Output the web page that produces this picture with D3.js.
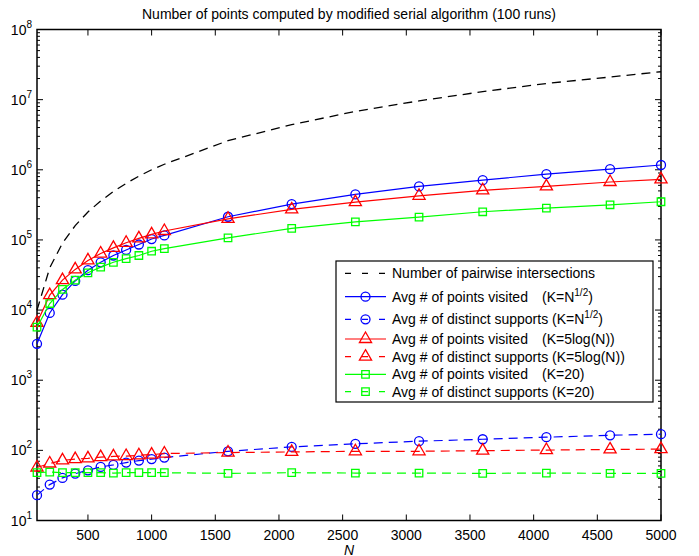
<!DOCTYPE html>
<html>
<head>
<meta charset="utf-8">
<script src="https://cdn.jsdelivr.net/npm/d3@7"></script>
<style>
	body { margin: 0; background: #fff; }
	text { font-family: "Liberation Sans", Arial, sans-serif; }
</style>
</head>
<body>
<div id="chart"></div>
<script>
(function() {
	// values
	var nValues = [100, 200, 300, 400, 500, 600, 700, 800, 900, 1000, 1100, 1600, 2100, 2600, 3100, 3600, 4100, 4600, 5000];
	var pairwise = [1.0e4, 4.0e4, 9.0e4, 1.6e5, 2.5e5, 3.6e5, 4.9e5, 6.4e5, 8.1e5, 1.0e6, 1.2e6, 2.6e6, 4.4e6, 6.8e6, 9.6e6, 1.3e7, 1.7e7, 2.1e7, 2.5e7];
	var sqrtVisited = [3.3e3, 9.1e3, 1.66e4, 2.6e4, 3.7e4, 4.8e4, 6.0e4, 7.2e4, 8.6e4, 1.03e5, 1.16e5, 2.14e5, 3.24e5, 4.46e5, 5.8e5, 7.1e5, 8.7e5, 1.02e6, 1.17e6];
	var sqrtSupports = [23, 32.5, 40.5, 46.5, 52, 58, 62, 67, 71.5, 75, 79, 97, 112, 124, 135, 144, 154, 164, 170];
	var logVisited = [6.6e3, 1.63e4, 2.67e4, 3.8e4, 5.1e4, 6.4e4, 7.7e4, 9.1e4, 1.05e5, 1.2e5, 1.34e5, 2.0e5, 2.72e5, 3.46e5, 4.26e5, 5.1e5, 5.8e5, 6.7e5, 7.3e5];
	var logSupports = [57, 65, 72, 75, 77, 80, 82, 83, 85, 87, 90, 93, 95, 97, 97, 99, 101, 103, 104];
	var k20Visited = [5.7e3, 1.24e4, 1.97e4, 2.67e4, 3.4e4, 4.1e4, 4.8e4, 5.4e4, 6.0e4, 6.9e4, 7.5e4, 1.07e5, 1.46e5, 1.81e5, 2.11e5, 2.52e5, 2.84e5, 3.17e5, 3.5e5];
	var k20Supports = [48, 49, 48, 48, 48, 48, 47.5, 48, 48, 48, 48, 47, 48, 47.5, 47.5, 47, 47.5, 47, 47];
	var xTicks = [500, 1000, 1500, 2000, 2500, 3000, 3500, 4000, 4500, 5000];
	var yExponents = [1, 2, 3, 4, 5, 6, 7, 8];

	var width = 699, height = 556;
	var margin = {top: 29.5, right: 38, bottom: 35.5, left: 37};
	var w = width - margin.left - margin.right;
	var h = height - margin.top - margin.bottom;
	var fs = 14;

	var svg = d3.select('#chart').append('svg').attr('width', width).attr('height', height);
	var g = svg.append('g').attr('transform', 'translate(' + margin.left + ',' + margin.top + ')');

	var x = d3.scaleLinear().domain([100, 5000]).range([0, w]);
	var y = d3.scaleLog().domain([10, 1e8]).range([h, 0]);

	// minor ticks of the log axis
	var minor = [];
	yExponents.slice(0, -1).forEach(function(e) {
		for (var m = 2; m <= 9; m++) minor.push(m * Math.pow(10, e));
	});

	var tickG = g.append('g').attr('stroke', '#000').attr('stroke-width', 1);
	xTicks.forEach(function(t) {
		tickG.append('line').attr('x1', x(t)).attr('x2', x(t)).attr('y1', h).attr('y2', h - 6);
		tickG.append('line').attr('x1', x(t)).attr('x2', x(t)).attr('y1', 0).attr('y2', 6);
	});
	yExponents.forEach(function(e) {
		var v = Math.pow(10, e);
		tickG.append('line').attr('x1', 0).attr('x2', 6).attr('y1', y(v)).attr('y2', y(v));
		tickG.append('line').attr('x1', w).attr('x2', w - 6).attr('y1', y(v)).attr('y2', y(v));
	});
	minor.forEach(function(v) {
		tickG.append('line').attr('x1', 0).attr('x2', 3).attr('y1', y(v)).attr('y2', y(v));
		tickG.append('line').attr('x1', w).attr('x2', w - 3).attr('y1', y(v)).attr('y2', y(v));
	});

	g.append('rect').attr('width', w).attr('height', h)
		.attr('fill', 'none').attr('stroke', '#000').attr('stroke-width', 1.5);

	// tick labels
	g.selectAll('.xlab').data(xTicks).enter().append('text')
		.attr('x', function(d) { return x(d); }).attr('y', h + 19)
		.attr('text-anchor', 'middle').attr('font-size', fs).text(function(d) { return d; });

	var yl = g.selectAll('.ylab').data(yExponents).enter().append('text')
		.attr('x', -5).attr('y', function(d) { return y(Math.pow(10, d)) + 5; })
		.attr('text-anchor', 'end').attr('font-size', fs);
	yl.append('tspan').text('10');
	yl.append('tspan').attr('dy', -7).attr('font-size', 10).text(function(d) { return d; });

	g.append('text').attr('x', w / 2).attr('y', h + 34).attr('text-anchor', 'middle')
		.attr('font-size', fs).attr('font-style', 'italic').attr('font-family', 'Liberation Serif, serif').text('N');

	svg.append('text').attr('x', margin.left + w / 2).attr('y', 19).attr('text-anchor', 'middle')
		.attr('font-size', fs).text('Number of points computed by modified serial algorithm (100 runs)');

	// series
	var series = [
		{vals: pairwise, color: '#000', dash: true, marker: null},
		{vals: sqrtVisited, color: '#0000ff', dash: false, marker: 'circle'},
		{vals: sqrtSupports, color: '#0000ff', dash: true, marker: 'circle'},
		{vals: logVisited, color: '#ff0000', dash: false, marker: 'triangle'},
		{vals: logSupports, color: '#ff0000', dash: true, marker: 'triangle'},
		{vals: k20Visited, color: '#00ff00', dash: false, marker: 'square'},
		{vals: k20Supports, color: '#00ff00', dash: true, marker: 'square'}
	];

	var line = d3.line()
		.x(function(d, i) { return x(nValues[i]); })
		.y(function(d) { return y(d); });

	var symbols = {
		circle: d3.symbol().type(d3.symbolCircle).size(Math.PI * 4.5 * 4.5),
		triangle: d3.symbol().type(d3.symbolTriangle).size(64),
		square: d3.symbol().type(d3.symbolSquare).size(56)
	};

	function drawMarker(sel, type, color, cx, cy) {
		sel.append('path').attr('d', symbols[type]())
			.attr('transform', 'translate(' + cx + ',' + cy + ')')
			.attr('fill', 'none').attr('stroke', color).attr('stroke-width', 1.3);
	}

	series.forEach(function(s) {
		var sg = g.append('g');
		sg.append('path').attr('d', line(s.vals)).attr('fill', 'none')
			.attr('stroke', s.color).attr('stroke-width', s.marker ? 1.2 : 1.3)
			.attr('stroke-dasharray', s.dash ? '9,6' : null);
		if (s.marker) {
			s.vals.forEach(function(v, i) {
				drawMarker(sg, s.marker, s.color, x(nValues[i]), y(v));
			});
		}
	});

	// legend
	var labels = [
		['Number of pairwise intersections', null],
		['Avg # of points visited', 'sqrt'],
		['Avg # of distinct supports ', 'sqrt'],
		['Avg # of points visited', '(K=5log(N))'],
		['Avg # of distinct supports (K=5log(N))', null],
		['Avg # of points visited', '(K=20)'],
		['Avg # of distinct supports (K=20)', null]
	];
	var rowY = [273.3, 296.7, 319.3, 339, 356.7, 374.3, 391.7];

	var lg = svg.append('g');
	lg.append('rect').attr('x', 336).attr('y', 261).attr('width', 317).attr('height', 141)
		.attr('fill', '#fff').attr('stroke', '#000').attr('stroke-width', 1.2);

	series.forEach(function(s, i) {
		var ly = rowY[i];
		lg.append('line').attr('x1', 345).attr('x2', 386).attr('y1', ly).attr('y2', ly)
			.attr('stroke', s.color).attr('stroke-width', 1.2)
			.attr('stroke-dasharray', s.dash ? '6,11' : null);
		if (s.marker) drawMarker(lg, s.marker, s.color, 365.5, ly);

		var t = lg.append('text').attr('x', 392).attr('y', ly + 5).attr('font-size', fs);
		var lab = labels[i];
		if (lab[1] === 'sqrt' && i === 1) {
			t.text(lab[0]);
			var t2 = lg.append('text').attr('x', 542).attr('y', ly + 5).attr('font-size', fs);
			t2.append('tspan').text('(K=N');
			t2.append('tspan').attr('dy', -6).attr('font-size', 10).text('1/2');
			t2.append('tspan').attr('dy', 6).text(')');
		} else if (lab[1] === 'sqrt') {
			t.append('tspan').text(lab[0] + '(K=N');
			t.append('tspan').attr('dy', -6).attr('font-size', 10).text('1/2');
			t.append('tspan').attr('dy', 6).text(')');
		} else {
			t.text(lab[0]);
			if (lab[1]) {
				lg.append('text').attr('x', 542).attr('y', ly + 5).attr('font-size', fs).text(lab[1]);
			}
		}
	});
})();
</script>
</body>
</html>
